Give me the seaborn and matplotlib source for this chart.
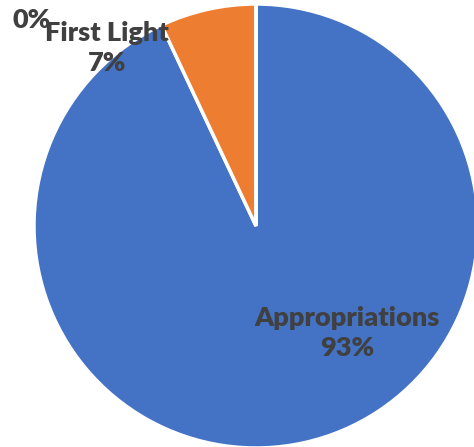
import matplotlib
matplotlib.use("Agg")
import matplotlib.pyplot as plt
import seaborn as sns

sns.set_style("white")
plt.rcParams["font.family"] = ["Lato", "DejaVu Sans"]

# Données du graphique
categories = ["Appropriations", "First Light", ""]
parts = [93, 7, 0]
couleurs = ["#4472C4", "#ED7D31", "#A5A5A5"]
etiquettes = ["Appropriations\n93%", "First Light\n7%", "0%"]

W, H, DPI = 474, 447, 100
fig = plt.figure(figsize=(W / DPI, H / DPI), dpi=DPI)
fig.patch.set_facecolor("white")

# Centre du camembert (px) et rayon
cx, cy, r = 256, 221, 222
ax = fig.add_axes([(cx - r) / W, (cy - r) / H, 2 * r / W, 2 * r / H])

wedges, _ = ax.pie(
    parts,
    colors=couleurs,
    startangle=90,
    counterclock=False,
    radius=1,
    wedgeprops=dict(edgecolor="white", linewidth=2.5),
)
for w in wedges:
    w.set_clip_on(False)

# pie() impose ses propres limites : on les remet après
ax.set_xlim(-1, 1)
ax.set_ylim(-1, 1)
ax.set_aspect("equal")
ax.axis("off")

# Positions des étiquettes (coordonnées relatives au rayon)
pos_etiquettes = [(0.41, -0.48), (-0.67, 0.80), (-1.01, 0.93)]
for txt, (x, y) in zip(etiquettes, pos_etiquettes):
    ax.text(x, y, txt, ha="center", va="center", fontsize=19.5,
            fontweight="heavy", color="#404040", linespacing=1.3,
            clip_on=False)

fig.savefig("out.png", dpi=DPI)
